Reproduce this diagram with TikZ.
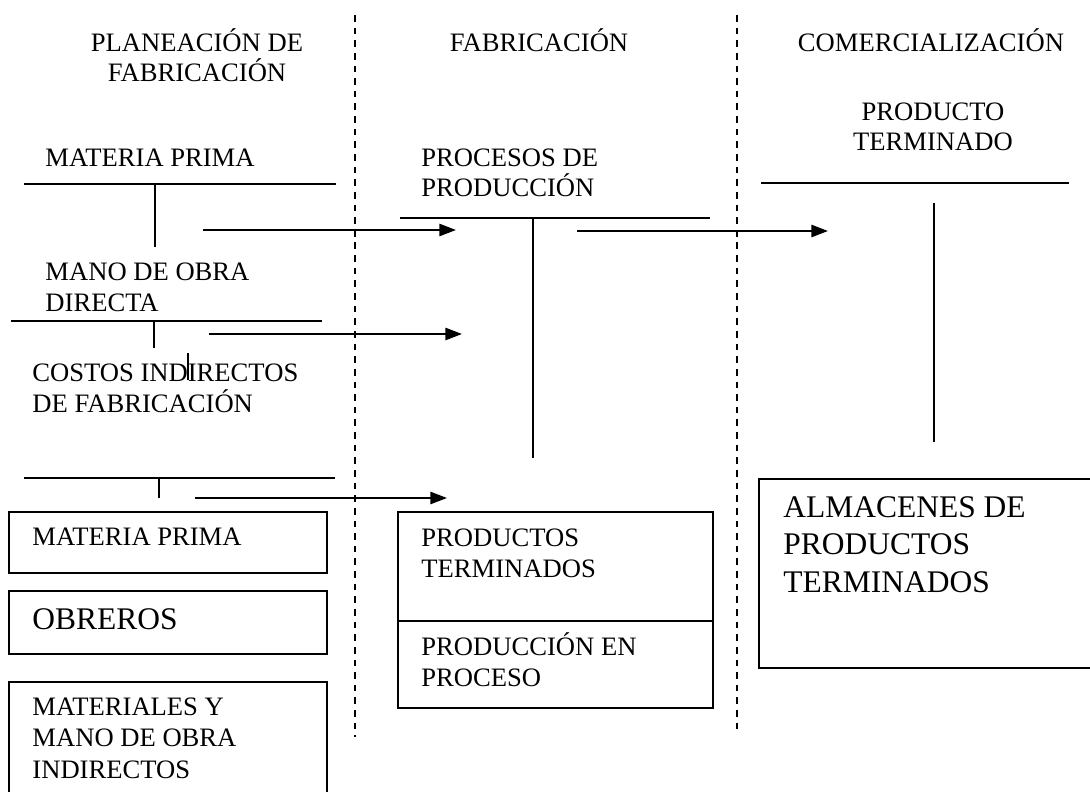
\documentclass[tikz,border=0pt]{standalone}
\usepackage{fontspec}
\setmainfont{Liberation Serif}
\usetikzlibrary{arrows.meta}
\begin{document}
\begin{tikzpicture}[x=0.451pt,y=-0.451pt,
  txt/.style={inner sep=0pt,anchor=base west,align=left,font=\fontsize{12}{13.8}\selectfont},
  bigtxt/.style={inner sep=0pt,anchor=base west,align=left,font=\fontsize{14.2}{16.7}\selectfont},
  head/.style={inner sep=0pt,anchor=base,align=center,font=\fontsize{12}{13.8}\selectfont},
  ln/.style={line width=0.9pt},
  sep/.style={line width=0.9pt,dash pattern=on 3pt off 2.7pt},
  arr/.style={line width=0.9pt,-{Triangle[length=7.5pt,width=5.5pt]}},
  boxln/.style={line width=0.9pt}]
\useasboundingbox (0,0) rectangle (1090,792);
% column separators
\coordinate (s1t) at (355,15); \coordinate (s1b) at (355,737);
\coordinate (s2t) at (737,15); \coordinate (s2b) at (737,735);
\draw[sep] (s1t) -- (s1b);
\draw[sep] (s2t) -- (s2b);
% headers (multi-line nodes are placed by the baseline of their last line)
\node[head] (h1) at (197,82) {PLANEACIÓN DE\\FABRICACIÓN};
\node[head] (h2) at (539,52) {FABRICACIÓN};
\node[head] (h3) at (931,52) {COMERCIALIZACIÓN};
\node[head] (pt) at (933,151) {PRODUCTO\\TERMINADO};
% left column T accounts
\node[txt] (mp) at (45,167) {MATERIA PRIMA};
\coordinate (mpL) at (24,184); \coordinate (mpR) at (336,184);
\coordinate (mpT) at (155,184); \coordinate (mpB) at (155,247);
\draw[ln] (mpL) -- (mpR); \draw[ln] (mpT) -- (mpB);
\node[txt] (mo) at (45,311) {MANO DE OBRA\\DIRECTA};
\coordinate (moL) at (11,321); \coordinate (moR) at (322,321);
\coordinate (moT) at (154,321); \coordinate (moB) at (154,348);
\draw[ln] (moL) -- (moR); \draw[ln] (moT) -- (moB);
\node[txt] (ci) at (32,412) {COSTOS INDIRECTOS\\DE FABRICACIÓN};
\coordinate (tkT) at (188,353); \coordinate (tkB) at (188,380);
\draw[line width=0.7pt] (tkT) -- (tkB);
\coordinate (ciL) at (24,478); \coordinate (ciR) at (335,478);
\coordinate (ciT) at (159,478); \coordinate (ciB) at (159,498);
\draw[ln] (ciL) -- (ciR); \draw[ln] (ciT) -- (ciB);
% middle T account
\node[txt] (pp) at (421,197) {PROCESOS DE\\PRODUCCIÓN};
\coordinate (ppL) at (400,218); \coordinate (ppR) at (710,218);
\coordinate (ppT) at (533,218); \coordinate (ppB) at (533,458);
\draw[ln] (ppL) -- (ppR); \draw[ln] (ppT) -- (ppB);
% right T account
\coordinate (ptL) at (761,183); \coordinate (ptR) at (1069,183);
\coordinate (ptT) at (934,203); \coordinate (ptB) at (934,442);
\draw[ln] (ptL) -- (ptR); \draw[ln] (ptT) -- (ptB);
% arrows
\coordinate (a1s) at (203,230); \coordinate (a1e) at (456,230);
\coordinate (a2s) at (577,231); \coordinate (a2e) at (828,231);
\coordinate (a3s) at (209,334); \coordinate (a3e) at (462,334);
\coordinate (a4s) at (195,498); \coordinate (a4e) at (447,498);
\draw[arr] (a1s) -- (a1e);
\draw[arr] (a2s) -- (a2e);
\draw[arr] (a3s) -- (a3e);
\draw[arr] (a4s) -- (a4e);
% left boxes
\draw[boxln] (9,512) rectangle (327,573);
\node[txt] (b1) at (32,545) {MATERIA PRIMA};
\draw[boxln] (9,591) rectangle (327,654);
\node[bigtxt] (b2) at (32,629) {OBREROS};
\draw[boxln] (9,800) -- (9,682) -- (327,682) -- (327,800);
\node[txt,font=\fontsize{12}{14.2}\selectfont] (b3) at (32,778) {MATERIALES Y\\MANO DE OBRA\\INDIRECTOS};
% middle box
\draw[boxln] (398,512) rectangle (713,708);
\draw[boxln] (398,621) -- (713,621);
\node[txt] (m1) at (421,577) {PRODUCTOS\\TERMINADOS};
\node[txt] (m2) at (421,686) {PRODUCCIÓN EN\\PROCESO};
% right box
\draw[boxln] (1100,479) -- (759,479) -- (759,668) -- (1100,668);
\node[bigtxt] (r1) at (783,592) {ALMACENES DE\\PRODUCTOS\\TERMINADOS};
\end{tikzpicture}
\end{document}
